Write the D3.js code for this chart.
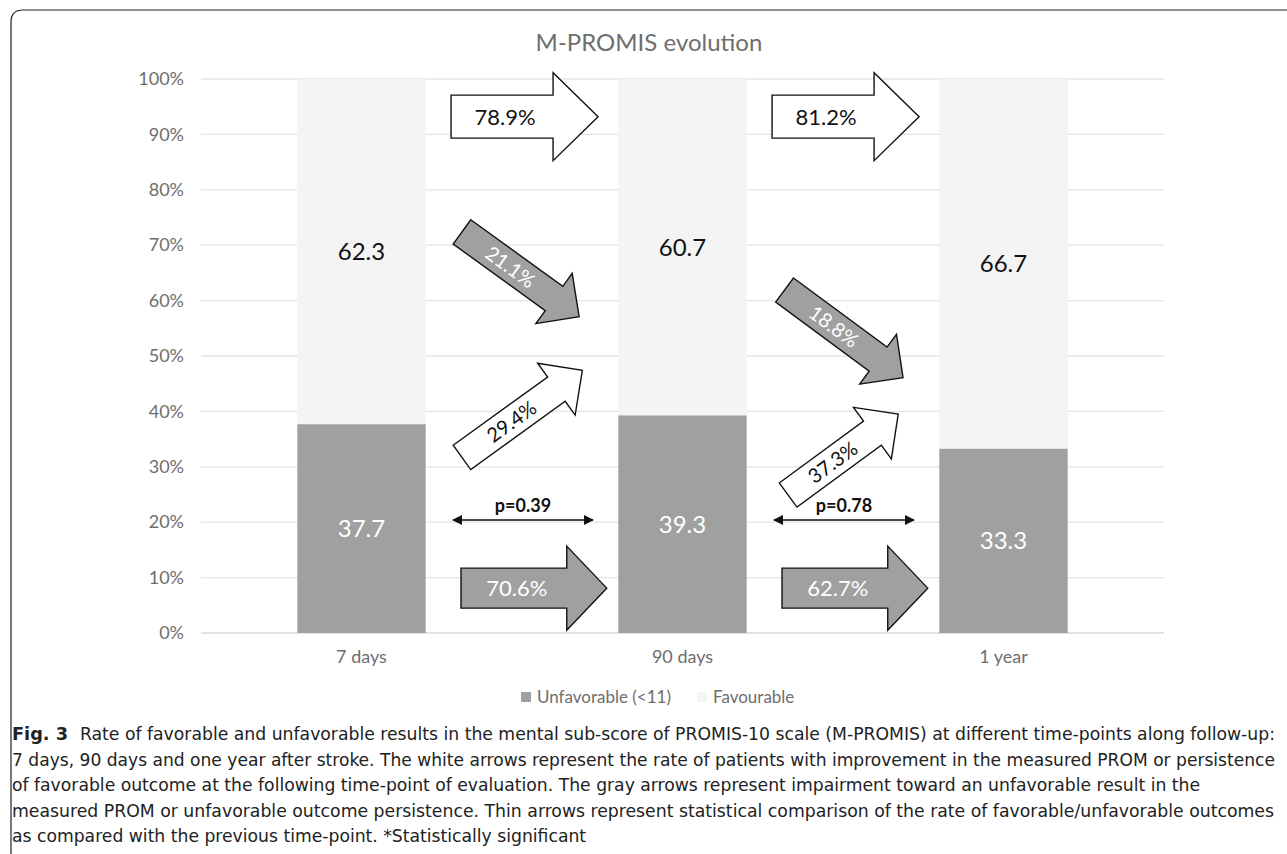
<!DOCTYPE html>
<html>
<head>
<meta charset="utf-8">
<script src="https://cdn.jsdelivr.net/npm/d3@7"></script>
<style>
  body { margin: 0; background: #fff; }
  svg { display: block; }
  text { font-family: Lato, "Open Sans", sans-serif; }
  .cap { font-family: "DejaVu Sans Condensed", "Liberation Sans Narrow", "Noto Sans", sans-serif; }
</style>
</head>
<body>
<svg id="chart"></svg>
<script>
// data
const categories = ["7 days", "90 days", "1 year"]
const unfavorable = [37.7, 39.3, 33.3]
const favourable = [62.3, 60.7, 66.7]
const persistFavourable = [78.9, 81.2]   // white straight arrows
const persistUnfavorable = [70.6, 62.7]  // gray straight arrows
const worsening = [21.1, 18.8]           // gray diagonal arrows
const improvement = [29.4, 37.3]         // white diagonal arrows
const pValues = [0.39, 0.78]
const yTicks = [0, 10, 20, 30, 40, 50, 60, 70, 80, 90, 100]
const seriesNames = ["Unfavorable (<11)", "Favourable"]

const captionLines = [
  "Rate of favorable and unfavorable results in the mental sub-score of PROMIS-10 scale (M-PROMIS) at different time-points along follow-up:",
  "7 days, 90 days and one year after stroke. The white arrows represent the rate of patients with improvement in the measured PROM or persistence",
  "of favorable outcome at the following time-point of evaluation. The gray arrows represent impairment toward an unfavorable result in the",
  "measured PROM or unfavorable outcome persistence. Thin arrows represent statistical comparison of the rate of favorable/unfavorable outcomes",
  "as compared with the previous time-point. *Statistically significant"
]

const width = 1287
const height = 854
const margin = {top: 79, right: 123, bottom: 220, left: 201}
const grayFill = "#a0a0a0"
const lightFill = "#f3f4f3"
const textGray = "#6e6e6e"

const svg = d3.select("#chart").attr("width", width).attr("height", height)

// outer frame
svg.append("path")
  .attr("d", `M11,${height} V22 Q11,10 23,10 H${width}`)
  .attr("fill", "none").attr("stroke", "#222").attr("stroke-width", 1.2)

// scales
const x = d3.scaleBand()
  .domain(categories)
  .range([margin.left, width - margin.right])
  .paddingInner(0.6)
  .paddingOuter(0.3)

const y = d3.scaleLinear()
  .domain([0, 100])
  .range([height - margin.bottom - 1, margin.top])

// fractional position between category centres (0 = first bar, 1 = second ...)
const xt = d3.scaleLinear()
  .domain([0, categories.length - 1])
  .range([x(categories[0]) + x.bandwidth() / 2, x(categories[categories.length - 1]) + x.bandwidth() / 2])

// title
svg.append("text")
  .attr("x", 649).attr("y", 51)
  .attr("text-anchor", "middle")
  .attr("font-size", 24)
  .attr("fill", textGray)
  .text("M-PROMIS evolution")

// gridlines
svg.append("g")
  .selectAll("line")
  .data(yTicks)
  .join("line")
  .attr("x1", margin.left).attr("x2", width - margin.right)
  .attr("y1", d => y(d)).attr("y2", d => y(d))
  .attr("stroke", d => d === 0 ? "#d9d9d9" : "#e4e4e4")
  .attr("stroke-width", 1.3)

// y axis
svg.append("g")
  .attr("transform", `translate(${margin.left - 14},0)`)
  .call(d3.axisLeft(y).tickValues(yTicks).tickFormat(d => d + "%").tickSize(0))
  .call(g => g.select(".domain").remove())
  .call(g => g.selectAll("text")
    .attr("font-family", "Lato, sans-serif")
    .attr("font-size", 18)
    .attr("fill", textGray))

// x axis labels
svg.append("g")
  .attr("transform", `translate(0,${y(0) + 14})`)
  .call(d3.axisBottom(x).tickSize(0))
  .call(g => g.select(".domain").remove())
  .call(g => g.selectAll("text")
    .attr("font-family", "Lato, sans-serif")
    .attr("font-size", 18)
    .attr("fill", textGray))

// stacked bars
const rows = categories.map((c, i) => ({cat: c, unf: unfavorable[i], fav: favourable[i]}))
const stack = d3.stack().keys(["unf", "fav"])(rows)
const colors = {unf: grayFill, fav: lightFill}

svg.append("g")
  .selectAll("g")
  .data(stack)
  .join("g")
  .attr("fill", d => colors[d.key])
  .selectAll("rect")
  .data(d => d)
  .join("rect")
  .attr("x", d => x(d.data.cat))
  .attr("y", d => y(d[1]))
  .attr("height", d => y(d[0]) - y(d[1]))
  .attr("width", x.bandwidth())

// bar labels
svg.append("g")
  .selectAll("g")
  .data(stack)
  .join("g")
  .attr("fill", d => d.key === "unf" ? "#fff" : "#111")
  .selectAll("text")
  .data(d => d)
  .join("text")
  .attr("x", d => x(d.data.cat) + x.bandwidth() / 2)
  .attr("y", d => y((d[0] + d[1]) / 2))
  .attr("dy", "0.36em")
  .attr("text-anchor", "middle")
  .attr("font-size", 24)
  .text(d => (d[1] - d[0]).toFixed(1))

// block arrow shape along +x
function arrowPath(L, bw, hw, hl) {
  return `M0,${-bw} L${L - hl},${-bw} L${L - hl},${-hw} L${L},0 L${L - hl},${hw} L${L - hl},${bw} L0,${bw} Z`
}

// arrow layout: tail/tip as (fraction between bars, percent)
const arrows = []
persistFavourable.forEach((v, i) => arrows.push({v, fill: "#fff", txt: "#111",
  t0: i + 0.279, p0: 93.2, t1: i + 0.737, p1: 93.2, bw: 21.5, hw: 44, hl: 45, fs: 22}))
persistUnfavorable.forEach((v, i) => arrows.push({v, fill: grayFill, txt: "#fff",
  t0: i + 0.31, p0: 8.1, t1: i + 0.764, p1: 8.1, bw: 20, hw: 42, hl: 40, fs: 22}))
const worsePos = [[0.313, 72.4, 0.678, 57.1], [0.318, 61.9, 0.687, 46.1]]
worsening.forEach((v, i) => arrows.push({v, fill: grayFill, txt: "#fff",
  t0: i + worsePos[i][0], p0: worsePos[i][1], t1: i + worsePos[i][2], p1: worsePos[i][3], bw: 15, hw: 31, hl: 31, fs: 20}))
const improvePos = [[0.313, 31.7, 0.688, 47.4], [0.329, 24.9, 0.672, 39.5]]
improvement.forEach((v, i) => arrows.push({v, fill: "#fff", txt: "#111",
  t0: i + improvePos[i][0], p0: improvePos[i][1], t1: i + improvePos[i][2], p1: improvePos[i][3], bw: 15, hw: 32, hl: 32, fs: 20}))

const ag = svg.append("g")
  .selectAll("g")
  .data(arrows)
  .join("g")
  .attr("transform", d => {
    const x0 = xt(d.t0), y0 = y(d.p0), x1 = xt(d.t1), y1 = y(d.p1)
    d.L = Math.hypot(x1 - x0, y1 - y0)
    const ang = Math.atan2(y1 - y0, x1 - x0) * 180 / Math.PI
    return `translate(${x0},${y0}) rotate(${ang})`
  })

ag.append("path")
  .attr("d", d => arrowPath(d.L, d.bw, d.hw, d.hl))
  .attr("fill", d => d.fill)
  .attr("stroke", "#111")
  .attr("stroke-width", 1.4)
  .attr("stroke-linejoin", "miter")

ag.append("text")
  .attr("x", d => (d.L - d.hl) / 2 + 3)
  .attr("y", 0)
  .attr("dy", "0.36em")
  .attr("text-anchor", "middle")
  .attr("font-size", d => d.fs)
  .attr("fill", d => d.txt)
  .text(d => d.v.toFixed(1) + "%")

// thin double arrows with p values
svg.append("defs").append("marker")
  .attr("id", "head")
  .attr("viewBox", "0 0 10 10")
  .attr("refX", 9).attr("refY", 5)
  .attr("markerWidth", 10).attr("markerHeight", 10)
  .attr("markerUnits", "userSpaceOnUse")
  .attr("orient", "auto-start-reverse")
  .append("path").attr("d", "M0,0 L10,5 L0,10 Z").attr("fill", "#111")

const pg = svg.append("g")
  .selectAll("g")
  .data(pValues)
  .join("g")

pg.append("line")
  .attr("x1", (d, i) => xt(i + 0.285)).attr("x2", (d, i) => xt(i + 0.721))
  .attr("y1", y(20.4)).attr("y2", y(20.4))
  .attr("stroke", "#111").attr("stroke-width", 1.5)
  .attr("marker-start", "url(#head)").attr("marker-end", "url(#head)")

pg.append("text")
  .attr("x", (d, i) => xt(i + 0.503))
  .attr("y", y(20.4) - 8)
  .attr("text-anchor", "middle")
  .attr("font-size", 18)
  .attr("font-weight", "bold")
  .attr("fill", "#111")
  .text(d => "p=" + d.toFixed(2))

// legend
const legendX = [521, 697]
const lg = svg.append("g")
  .selectAll("g")
  .data(seriesNames)
  .join("g")
  .attr("transform", (d, i) => `translate(${legendX[i]},692)`)
lg.append("rect").attr("width", 10).attr("height", 10)
  .attr("fill", (d, i) => i === 0 ? grayFill : lightFill)
lg.append("text").attr("x", 16).attr("y", 11)
  .attr("font-size", 17).attr("fill", textGray)
  .text(d => d)

// caption
const cap = svg.append("g")
cap.append("text")
  .attr("class", "cap")
  .attr("x", 12).attr("y", 740)
  .attr("font-size", 18).attr("font-weight", "bold")
  .attr("textLength", 56).attr("lengthAdjust", "spacingAndGlyphs")
  .attr("fill", "#222")
  .text("Fig. 3")

const capStart = [80, 12, 12, 12, 12]
const capEnd = [1275, 1275, null, 1274, null]   // ragged lines follow the density of the full ones
const capLines = cap.selectAll("text.line")
  .data(captionLines)
  .join("text")
  .attr("class", "cap line")
  .attr("x", (d, i) => capStart[i])
  .attr("y", (d, i) => 740 + i * 25.5)
  .attr("font-size", 17)
  .attr("fill", "#222")
  .text(d => d)

const natural = capLines.nodes().map(n => n.getComputedTextLength())
const ratios = natural.map((w, i) => capEnd[i] ? (capEnd[i] - capStart[i]) / w : null).filter(r => r)
const ratio = d3.mean(ratios)
capLines
  .attr("textLength", (d, i) => capEnd[i] ? capEnd[i] - capStart[i] : natural[i] * ratio)
  .attr("lengthAdjust", "spacingAndGlyphs")
</script>
</body>
</html>
